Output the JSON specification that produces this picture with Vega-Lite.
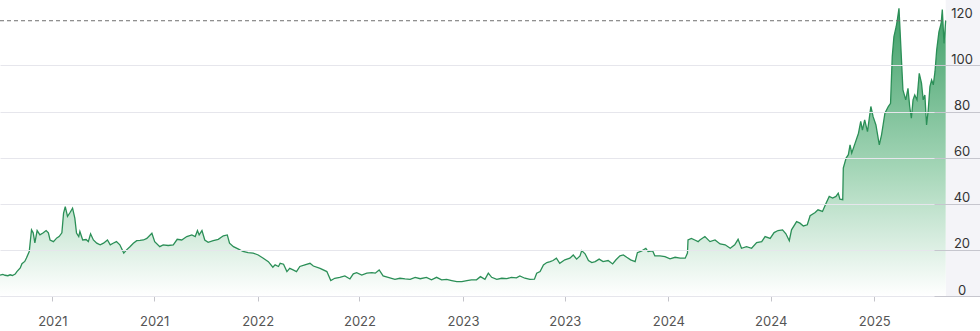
{
  "$schema": "https://vega.github.io/schema/vega-lite/v6.json",
  "width": 980,
  "height": 296,
  "autosize": {"type": "none"},
  "padding": {"left": 0, "right": 0, "top": 0, "bottom": 35},
  "background": "white",
  "config": {"view": {"stroke": null}, "font": "Inter"},
  "datasets": {
    "band": [{"d": "2025-05-08", "d2": "2025-07-08", "v": 0, "v2": 128.4}],
    "ref": [{"d": "2020-09-30", "d2": "2025-05-08", "v": 119.4}],
    "series": [
      {"d": "2020-09-30", "v": 9.0}, {"d": "2020-10-05", "v": 9.4}, {"d": "2020-10-09", "v": 9.0}, {"d": "2020-10-14", "v": 8.8},
      {"d": "2020-10-18", "v": 9.2}, {"d": "2020-10-22", "v": 8.9}, {"d": "2020-10-27", "v": 9.5}, {"d": "2020-10-30", "v": 10.6},
      {"d": "2020-11-05", "v": 12.2}, {"d": "2020-11-08", "v": 14.0}, {"d": "2020-11-13", "v": 15.0}, {"d": "2020-11-16", "v": 16.5},
      {"d": "2020-11-21", "v": 19.3}, {"d": "2020-11-25", "v": 28.7}, {"d": "2020-11-28", "v": 27.4}, {"d": "2020-12-01", "v": 23.0},
      {"d": "2020-12-05", "v": 28.4}, {"d": "2020-12-10", "v": 26.5}, {"d": "2020-12-16", "v": 27.4}, {"d": "2020-12-21", "v": 28.4},
      {"d": "2020-12-25", "v": 27.4}, {"d": "2020-12-28", "v": 24.3}, {"d": "2021-01-03", "v": 23.6}, {"d": "2021-01-09", "v": 25.2},
      {"d": "2021-01-13", "v": 25.8}, {"d": "2021-01-18", "v": 27.4}, {"d": "2021-01-21", "v": 36.0}, {"d": "2021-01-24", "v": 38.8},
      {"d": "2021-01-28", "v": 34.5}, {"d": "2021-02-01", "v": 36.0}, {"d": "2021-02-06", "v": 38.1}, {"d": "2021-02-10", "v": 33.8},
      {"d": "2021-02-13", "v": 27.3}, {"d": "2021-02-17", "v": 25.8}, {"d": "2021-02-19", "v": 28.0}, {"d": "2021-02-24", "v": 24.3},
      {"d": "2021-03-02", "v": 24.5}, {"d": "2021-03-06", "v": 23.6}, {"d": "2021-03-10", "v": 27.0}, {"d": "2021-03-15", "v": 24.3},
      {"d": "2021-03-21", "v": 22.9}, {"d": "2021-03-27", "v": 22.2}, {"d": "2021-04-02", "v": 22.9}, {"d": "2021-04-09", "v": 24.3},
      {"d": "2021-04-14", "v": 22.2}, {"d": "2021-04-19", "v": 22.9}, {"d": "2021-04-25", "v": 23.6}, {"d": "2021-05-01", "v": 22.2},
      {"d": "2021-05-08", "v": 18.6}, {"d": "2021-05-13", "v": 20.0}, {"d": "2021-05-19", "v": 21.4}, {"d": "2021-05-25", "v": 22.9},
      {"d": "2021-05-31", "v": 24.0}, {"d": "2021-06-06", "v": 24.1}, {"d": "2021-06-12", "v": 24.3}, {"d": "2021-06-18", "v": 25.0},
      {"d": "2021-06-27", "v": 27.2}, {"d": "2021-07-02", "v": 23.6}, {"d": "2021-07-11", "v": 21.4}, {"d": "2021-07-17", "v": 22.2},
      {"d": "2021-07-26", "v": 21.9}, {"d": "2021-08-04", "v": 22.2}, {"d": "2021-08-11", "v": 24.6}, {"d": "2021-08-19", "v": 24.3},
      {"d": "2021-08-28", "v": 25.8}, {"d": "2021-09-06", "v": 26.5}, {"d": "2021-09-12", "v": 25.8}, {"d": "2021-09-16", "v": 28.4},
      {"d": "2021-09-19", "v": 26.5}, {"d": "2021-09-24", "v": 28.4}, {"d": "2021-09-29", "v": 24.3}, {"d": "2021-10-05", "v": 23.3},
      {"d": "2021-10-14", "v": 24.0}, {"d": "2021-10-23", "v": 24.6}, {"d": "2021-11-01", "v": 26.1}, {"d": "2021-11-08", "v": 26.5},
      {"d": "2021-11-12", "v": 22.9}, {"d": "2021-11-19", "v": 21.4}, {"d": "2021-11-28", "v": 20.3}, {"d": "2021-12-06", "v": 19.3},
      {"d": "2021-12-15", "v": 18.8}, {"d": "2021-12-24", "v": 18.6}, {"d": "2022-01-02", "v": 17.8}, {"d": "2022-01-11", "v": 16.4},
      {"d": "2022-01-20", "v": 14.9}, {"d": "2022-01-28", "v": 12.5}, {"d": "2022-02-01", "v": 13.5}, {"d": "2022-02-07", "v": 12.8},
      {"d": "2022-02-10", "v": 14.2}, {"d": "2022-02-16", "v": 13.8}, {"d": "2022-02-22", "v": 10.6}, {"d": "2022-02-27", "v": 12.0},
      {"d": "2022-03-05", "v": 11.3}, {"d": "2022-03-11", "v": 10.6}, {"d": "2022-03-17", "v": 12.8}, {"d": "2022-03-26", "v": 13.5},
      {"d": "2022-04-04", "v": 14.2}, {"d": "2022-04-10", "v": 13.0}, {"d": "2022-04-22", "v": 12.0}, {"d": "2022-05-04", "v": 10.6},
      {"d": "2022-05-11", "v": 6.7}, {"d": "2022-05-18", "v": 7.7}, {"d": "2022-05-27", "v": 8.1}, {"d": "2022-06-05", "v": 8.7},
      {"d": "2022-06-14", "v": 7.4}, {"d": "2022-06-20", "v": 9.6}, {"d": "2022-06-26", "v": 10.1}, {"d": "2022-07-05", "v": 9.1},
      {"d": "2022-07-14", "v": 9.9}, {"d": "2022-07-23", "v": 10.1}, {"d": "2022-07-29", "v": 9.9}, {"d": "2022-08-05", "v": 11.3},
      {"d": "2022-08-12", "v": 8.7}, {"d": "2022-08-21", "v": 8.1}, {"d": "2022-09-02", "v": 7.2}, {"d": "2022-09-11", "v": 7.7},
      {"d": "2022-09-20", "v": 7.4}, {"d": "2022-09-29", "v": 7.2}, {"d": "2022-10-08", "v": 8.1}, {"d": "2022-10-17", "v": 7.5},
      {"d": "2022-10-28", "v": 8.1}, {"d": "2022-11-06", "v": 7.0}, {"d": "2022-11-15", "v": 8.1}, {"d": "2022-11-24", "v": 7.0},
      {"d": "2022-12-03", "v": 7.2}, {"d": "2022-12-12", "v": 6.7}, {"d": "2022-12-21", "v": 6.2}, {"d": "2022-12-30", "v": 6.2},
      {"d": "2023-01-08", "v": 6.7}, {"d": "2023-01-16", "v": 7.0}, {"d": "2023-01-25", "v": 7.0}, {"d": "2023-02-01", "v": 8.4},
      {"d": "2023-02-09", "v": 7.2}, {"d": "2023-02-15", "v": 9.9}, {"d": "2023-02-21", "v": 8.1}, {"d": "2023-03-02", "v": 7.2},
      {"d": "2023-03-11", "v": 7.7}, {"d": "2023-03-20", "v": 7.5}, {"d": "2023-03-28", "v": 8.1}, {"d": "2023-04-06", "v": 7.9},
      {"d": "2023-04-12", "v": 8.7}, {"d": "2023-04-21", "v": 7.7}, {"d": "2023-04-30", "v": 7.2}, {"d": "2023-05-08", "v": 7.3},
      {"d": "2023-05-12", "v": 9.9}, {"d": "2023-05-18", "v": 10.6}, {"d": "2023-05-24", "v": 13.5}, {"d": "2023-05-30", "v": 14.5},
      {"d": "2023-06-05", "v": 14.9}, {"d": "2023-06-10", "v": 15.4}, {"d": "2023-06-16", "v": 16.4}, {"d": "2023-06-22", "v": 14.2},
      {"d": "2023-07-01", "v": 15.7}, {"d": "2023-07-10", "v": 16.4}, {"d": "2023-07-16", "v": 17.8}, {"d": "2023-07-22", "v": 16.0},
      {"d": "2023-07-28", "v": 17.4}, {"d": "2023-07-31", "v": 19.7}, {"d": "2023-08-06", "v": 18.3}, {"d": "2023-08-12", "v": 15.4},
      {"d": "2023-08-18", "v": 14.5}, {"d": "2023-08-24", "v": 14.9}, {"d": "2023-08-31", "v": 16.0}, {"d": "2023-09-07", "v": 14.9},
      {"d": "2023-09-16", "v": 15.4}, {"d": "2023-09-24", "v": 13.9}, {"d": "2023-09-30", "v": 15.7}, {"d": "2023-10-07", "v": 17.4},
      {"d": "2023-10-13", "v": 17.8}, {"d": "2023-10-19", "v": 16.8}, {"d": "2023-10-26", "v": 15.7}, {"d": "2023-11-03", "v": 14.9},
      {"d": "2023-11-07", "v": 18.8}, {"d": "2023-11-15", "v": 19.6}, {"d": "2023-11-22", "v": 20.7}, {"d": "2023-11-26", "v": 19.3},
      {"d": "2023-12-04", "v": 19.6}, {"d": "2023-12-08", "v": 17.4}, {"d": "2023-12-17", "v": 17.4}, {"d": "2023-12-26", "v": 17.1},
      {"d": "2024-01-04", "v": 16.1}, {"d": "2024-01-13", "v": 16.8}, {"d": "2024-01-22", "v": 16.4}, {"d": "2024-01-31", "v": 16.4},
      {"d": "2024-02-04", "v": 18.6}, {"d": "2024-02-05", "v": 24.3}, {"d": "2024-02-11", "v": 25.0}, {"d": "2024-02-17", "v": 24.3},
      {"d": "2024-02-23", "v": 23.6}, {"d": "2024-02-26", "v": 24.3}, {"d": "2024-03-06", "v": 25.8}, {"d": "2024-03-15", "v": 23.6},
      {"d": "2024-03-24", "v": 24.3}, {"d": "2024-04-02", "v": 22.6}, {"d": "2024-04-11", "v": 22.2}, {"d": "2024-04-20", "v": 20.7},
      {"d": "2024-04-28", "v": 22.2}, {"d": "2024-05-04", "v": 24.6}, {"d": "2024-05-10", "v": 20.7}, {"d": "2024-05-19", "v": 21.4},
      {"d": "2024-05-28", "v": 20.7}, {"d": "2024-06-06", "v": 23.2}, {"d": "2024-06-15", "v": 23.6}, {"d": "2024-06-21", "v": 25.8},
      {"d": "2024-06-30", "v": 25.0}, {"d": "2024-07-07", "v": 27.5}, {"d": "2024-07-14", "v": 28.4}, {"d": "2024-07-22", "v": 28.7},
      {"d": "2024-07-28", "v": 27.0}, {"d": "2024-08-03", "v": 24.0}, {"d": "2024-08-07", "v": 28.7}, {"d": "2024-08-16", "v": 32.3},
      {"d": "2024-08-22", "v": 31.6}, {"d": "2024-08-28", "v": 30.4}, {"d": "2024-09-04", "v": 30.9}, {"d": "2024-09-09", "v": 34.8},
      {"d": "2024-09-18", "v": 36.2}, {"d": "2024-09-23", "v": 37.4}, {"d": "2024-10-01", "v": 36.7}, {"d": "2024-10-07", "v": 40.0},
      {"d": "2024-10-13", "v": 43.2}, {"d": "2024-10-19", "v": 42.5}, {"d": "2024-10-25", "v": 43.2}, {"d": "2024-10-29", "v": 44.6},
      {"d": "2024-11-01", "v": 42.0}, {"d": "2024-11-06", "v": 41.8}, {"d": "2024-11-07", "v": 55.5}, {"d": "2024-11-12", "v": 59.8},
      {"d": "2024-11-16", "v": 61.3}, {"d": "2024-11-19", "v": 65.6}, {"d": "2024-11-22", "v": 62.0}, {"d": "2024-11-28", "v": 66.3},
      {"d": "2024-12-04", "v": 70.6}, {"d": "2024-12-08", "v": 75.7}, {"d": "2024-12-11", "v": 72.0}, {"d": "2024-12-15", "v": 76.4},
      {"d": "2024-12-20", "v": 71.3}, {"d": "2024-12-26", "v": 82.2}, {"d": "2024-12-30", "v": 77.8}, {"d": "2025-01-04", "v": 74.2},
      {"d": "2025-01-10", "v": 65.6}, {"d": "2025-01-14", "v": 69.9}, {"d": "2025-01-20", "v": 79.3}, {"d": "2025-01-26", "v": 82.2},
      {"d": "2025-01-30", "v": 83.6}, {"d": "2025-02-02", "v": 103.8}, {"d": "2025-02-05", "v": 112.5}, {"d": "2025-02-09", "v": 116.8},
      {"d": "2025-02-11", "v": 119.7}, {"d": "2025-02-14", "v": 124.8}, {"d": "2025-02-17", "v": 109.6}, {"d": "2025-02-21", "v": 89.4},
      {"d": "2025-02-26", "v": 85.1}, {"d": "2025-03-02", "v": 90.1}, {"d": "2025-03-05", "v": 82.2}, {"d": "2025-03-08", "v": 77.1},
      {"d": "2025-03-11", "v": 85.1}, {"d": "2025-03-14", "v": 87.2}, {"d": "2025-03-18", "v": 85.1}, {"d": "2025-03-22", "v": 96.6},
      {"d": "2025-03-26", "v": 92.3}, {"d": "2025-03-29", "v": 85.1}, {"d": "2025-04-01", "v": 87.2}, {"d": "2025-04-04", "v": 74.2},
      {"d": "2025-04-07", "v": 80.7}, {"d": "2025-04-10", "v": 90.8}, {"d": "2025-04-13", "v": 93.7}, {"d": "2025-04-16", "v": 91.6},
      {"d": "2025-04-19", "v": 97.3}, {"d": "2025-04-22", "v": 106.7}, {"d": "2025-04-26", "v": 114.6}, {"d": "2025-04-30", "v": 118.3},
      {"d": "2025-05-02", "v": 124.3}, {"d": "2025-05-05", "v": 109.6}, {"d": "2025-05-08", "v": 119.4}
    ]
  },
  "encoding": {
    "x": {
      "field": "d",
      "type": "temporal",
      "scale": {
        "type": "utc",
        "domain": [
          {"year": 2020, "month": 9, "date": 30, "utc": true},
          {"year": 2025, "month": 7, "date": 8, "utc": true}
        ]
      },
      "axis": {
        "title": null,
        "values": [
          {"year": 2021, "month": 1, "date": 1, "utc": true},
          {"year": 2021, "month": 7, "date": 1, "utc": true},
          {"year": 2022, "month": 1, "date": 1, "utc": true},
          {"year": 2022, "month": 7, "date": 1, "utc": true},
          {"year": 2023, "month": 1, "date": 1, "utc": true},
          {"year": 2023, "month": 7, "date": 1, "utc": true},
          {"year": 2024, "month": 1, "date": 1, "utc": true},
          {"year": 2024, "month": 7, "date": 1, "utc": true},
          {"year": 2025, "month": 1, "date": 1, "utc": true}
        ],
        "labelExpr": "utcFormat(datum.value, '%Y')",
        "grid": false,
        "domainColor": "#d8d8df",
        "tickColor": "#c4c4ca",
        "tickSize": 5,
        "labelPadding": 14,
        "labelFont": "Inter",
        "labelFontSize": 13,
        "labelColor": "#555555",
        "labelFlush": false
      }
    },
    "y": {
      "field": "v",
      "type": "quantitative",
      "scale": {"domain": [0, 128.4], "nice": false, "zero": true},
      "axis": {
        "title": null,
        "orient": "right",
        "values": [0, 20, 40, 60, 80, 100, 120],
        "domain": false,
        "grid": true,
        "gridColor": {"condition": {"test": "datum.value === 120", "value": "transparent"}, "value": "#e6e6ec"},
        "gridWidth": 1,
        "ticks": true,
        "tickSize": -46,
        "tickColor": {"condition": {"test": "datum.value === 120", "value": "transparent"}, "value": "#c6c6ce"},
        "labelAlign": "center",
        "labelBaseline": "alphabetic",
        "labelOffset": -2,
        "labelPadding": 27.5,
        "labelFont": "Inter",
        "labelFontSize": 13,
        "labelColor": "#333333",
        "labelFlush": false,
        "zindex": 1
      }
    }
  },
  "layer": [
    {
      "data": {"name": "band"},
      "mark": {"type": "rect", "color": "#f4f4f8"},
      "encoding": {"x2": {"field": "d2"}, "y2": {"field": "v2"}}
    },
    {
      "data": {"name": "series"},
      "mark": {
        "type": "area",
        "color": {
          "gradient": "linear",
          "x1": 0, "y1": 0, "x2": 0, "y2": 1,
          "stops": [
            {"offset": 0, "color": "#3f9f68"},
            {"offset": 0.55, "color": "#a3d5b6"},
            {"offset": 1, "color": "#ffffff"}
          ]
        }
      }
    },
    {
      "data": {"name": "series"},
      "mark": {"type": "line", "color": "#2b8f57", "strokeWidth": 1.3}
    },
    {
      "data": {"name": "ref"},
      "mark": {"type": "rule", "color": "#6e6e6e", "strokeDash": [4, 3], "strokeWidth": 1},
      "encoding": {"x2": {"field": "d2"}}
    }
  ]
}
